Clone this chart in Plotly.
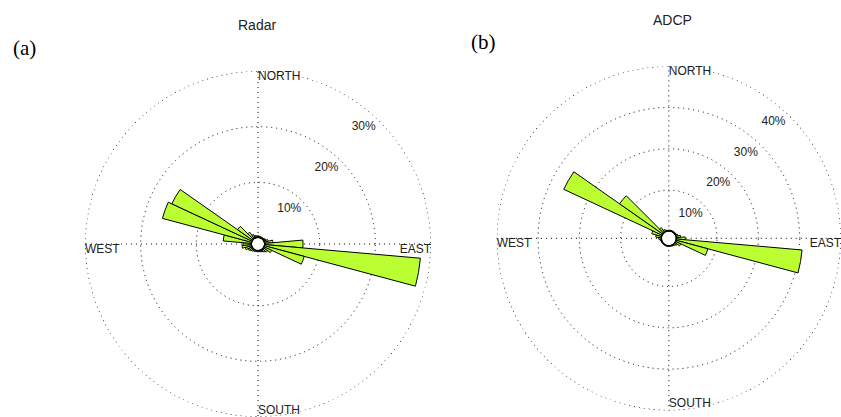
import plotly.graph_objects as go

# ---- data ----
bin_centers = list(range(0, 360, 10))  # compass direction (deg), 10-degree bins
radar_pct = [0.4, 0.3, 0.3, 0.3, 0.3, 0.4, 0.5, 0.8, 1.6, 7.0, 28.2, 7.5,
             1.6, 1.0, 0.7, 0.5, 0.4, 0.3, 0.3, 0.3, 0.3, 0.4, 0.5, 0.7,
             0.9, 1.3, 1.8, 1.6, 5.2, 16.7, 16.0, 3.4, 1.5, 0.8, 0.5, 0.4]
adcp_pct = [0.3, 0.3, 0.3, 0.3, 0.3, 0.3, 0.4, 0.6, 1.2, 2.3, 30.7, 8.1,
            1.5, 0.8, 0.5, 0.4, 0.3, 0.3, 0.3, 0.3, 0.3, 0.3, 0.3, 0.3,
            0.3, 0.3, 0.5, 0.8, 1.5, 2.6, 26.4, 12.9, 1.5, 0.7, 0.4, 0.3]
radar_rings = [10, 20, 30]
adcp_rings = [10, 20, 30, 40]
compass_labels = ["NORTH", "EAST", "SOUTH", "WEST"]
compass_theta = [0, 90, 180, 270]
titles = ["Radar", "ADCP"]
panel_tags = ["(a)", "(b)"]

BAR_COLOR = "rgb(187,255,51)"
TXT = "#222222"
LABEL_FONT = dict(family="Liberation Sans, Arial, sans-serif", size=12, color=TXT)
DOTS = "1px,4px"

fig = go.Figure()


def add_rose(subplot, values, rings, label_inset):
    rmax = rings[-1]
    circ_theta = list(range(0, 361, 2))
    # outer dotted ring (grid circle at the top value)
    fig.add_trace(go.Scatterpolar(
        r=[rmax] * len(circ_theta), theta=circ_theta, mode="lines",
        line=dict(color="black", width=1.4, dash=DOTS), subplot=subplot,
        showlegend=False, hoverinfo="skip", cliponaxis=False))
    fig.add_trace(go.Barpolar(
        r=values, theta=bin_centers, width=[10] * len(bin_centers),
        marker=dict(color=BAR_COLOR, line=dict(color="black", width=1)),
        subplot=subplot, showlegend=False, hoverinfo="skip"))
    # centre ring at the hole edge
    fig.add_trace(go.Scatterpolar(
        r=[0] * len(circ_theta), theta=circ_theta, mode="lines",
        line=dict(color="black", width=2.5), subplot=subplot,
        showlegend=False, hoverinfo="skip", cliponaxis=False))
    # compass labels
    fig.add_trace(go.Scatterpolar(
        r=[rmax] * 4, theta=compass_theta, mode="text", text=compass_labels,
        textposition=["bottom right", "bottom left", "top right", "bottom right"],
        textfont=LABEL_FONT, subplot=subplot, showlegend=False,
        hoverinfo="skip", cliponaxis=False))
    # ring labels
    fig.add_trace(go.Scatterpolar(
        r=[v - label_inset for v in rings], theta=[42] * len(rings), mode="text",
        text=[f"{v}%" for v in rings], textposition="middle center",
        textfont=LABEL_FONT, subplot=subplot, showlegend=False,
        hoverinfo="skip", cliponaxis=False))


add_rose("polar", radar_pct, radar_rings, 2.7)
add_rose("polar2", adcp_pct, adcp_rings, 3.8)


def polar_layout(domx, domy, rings, hole):
    return dict(
        domain=dict(x=domx, y=domy),
        hole=hole,
        bgcolor="white",
        radialaxis=dict(range=[0, rings[-1]], tickvals=rings, showticklabels=False,
                        ticks="", showline=False, gridcolor="black",
                        griddash=DOTS, gridwidth=1),
        angularaxis=dict(rotation=90, direction="clockwise", tickvals=compass_theta,
                         showticklabels=False, ticks="", showline=False,
                         gridcolor="black", griddash=DOTS, gridwidth=1),
    )


ann_font = dict(family="Liberation Sans, Arial", size=14, color=TXT)
tag_font = dict(family="Liberation Serif, Times New Roman, serif", size=21, color="black")
fig.update_layout(
    width=841, height=417,
    margin=dict(l=0, r=0, t=0, b=0),
    paper_bgcolor="white", plot_bgcolor="white",
    polar=polar_layout([0.1011, 0.5125], [0.0, 0.8297], radar_rings, 0.035),
    polar2=polar_layout([0.5906, 1.0], [0.009, 0.848], adcp_rings, 0.04),
    annotations=[
        dict(text=titles[0], x=257 / 841, y=1 - 25 / 417, xref="paper", yref="paper",
             xanchor="center", yanchor="middle", showarrow=False, font=ann_font),
        dict(text=titles[1], x=672 / 841, y=1 - 20 / 417, xref="paper", yref="paper",
             xanchor="center", yanchor="middle", showarrow=False, font=ann_font),
        dict(text=panel_tags[0], x=24 / 841, y=1 - 48 / 417, xref="paper", yref="paper",
             xanchor="center", yanchor="middle", showarrow=False, font=tag_font),
        dict(text=panel_tags[1], x=483 / 841, y=1 - 42 / 417, xref="paper", yref="paper",
             xanchor="center", yanchor="middle", showarrow=False, font=tag_font),
    ],
)

fig.write_html("out.html", config={"displayModeBar": False},
               post_script="document.body.style.margin='0';document.body.style.overflow='hidden';")
